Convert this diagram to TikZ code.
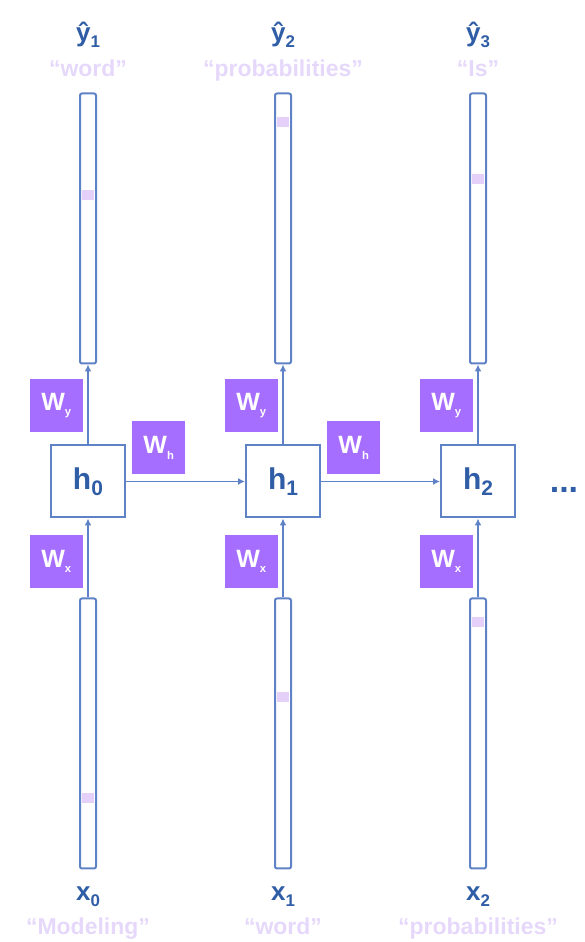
\documentclass[tikz,border=0pt]{standalone}
\usepackage{fontspec}
\setmainfont{Liberation Sans}
\usepackage{xcolor}
\usetikzlibrary{positioning,arrows.meta}
\definecolor{VecBlue}{HTML}{5F82C6}
\definecolor{LabelBlue}{HTML}{2F5DA6}
\definecolor{WordLilac}{HTML}{E6D8FB}
\definecolor{WeightPurple}{HTML}{A66EFF}
\definecolor{HotLilac}{HTML}{E4D0F8}
\newcommand{\lowix}[2][0.7]{\raisebox{-0.4ex}{\scalebox{#1}{#2}}}

\tikzset{
  vecbox/.style={draw=VecBlue, line width=2pt, rounded corners=2pt,
    minimum width=16pt, minimum height=270pt, inner sep=0pt},
  cellbox/.style={draw=VecBlue, line width=2pt, fill=white,
    minimum width=74pt, minimum height=72pt, inner sep=0pt,
    text=LabelBlue, font=\bfseries\fontsize{30}{30}\selectfont},
  weightbox/.style={fill=WeightPurple, minimum size=53pt, inner sep=0pt,
    text=white, font=\bfseries\fontsize{25}{25}\selectfont},
  symlabel/.style={text=LabelBlue, font=\bfseries\fontsize{26}{26}\selectfont,
    inner sep=0pt, anchor=base},
  wordlabel/.style={text=WordLilac, font=\bfseries\fontsize{23}{23}\selectfont,
    inner sep=0pt, anchor=base},
  link/.style={draw=VecBlue, line width=1.6pt, -{Latex[length=7pt,width=7pt]}},
}

\begin{document}
\begin{tikzpicture}[x=1pt,y=1pt]
  \useasboundingbox (0,0) rectangle (585,942);

  % one column per time step
  \foreach \i/\cx/\up/\dn/\yw/\xw in {0/88/747/144/word/Modeling,
      1/283/820/245/probabilities/word, 2/478/763/320/Is/probabilities}{
    \pgfmathtruncatemacro{\j}{\i+1}
    \node[cellbox] (h\i) at (\cx,460.5) {h\lowix{\i}};
    \node[vecbox, above=80pt of h\i] (yvec\i) {};
    \node[vecbox, below=79pt of h\i] (xvec\i) {};
    % one-hot entries
    \fill[HotLilac] (\cx-6,\up-5) rectangle (\cx+6,\up+5);
    \fill[HotLilac] (\cx-6,\dn-5) rectangle (\cx+6,\dn+5);
    \node[weightbox, above left=12pt and 5pt of h\i.north] (wy\i) {W\lowix[0.45]{y}};
    \node[weightbox, below left=16pt and 5pt of h\i.south] (wx\i) {W\lowix[0.45]{x}};
    \ifnum\i<2
      \node[weightbox, above right=7pt and 6pt of h\i.east] (wh\i) {W\lowix[0.45]{h}};
    \fi
    \draw[link] (h\i.north) -- (yvec\i.south);
    \draw[link] (xvec\i.north) -- (h\i.south);
    % labels
    \node[symlabel] (yhat\i) at (\cx,900) {ŷ\lowix[0.65]{\j}};
    \node[wordlabel] (yword\i) at (\cx,865) {“\yw”};
    \node[symlabel] (xin\i) at (\cx,41) {x\lowix[0.65]{\i}};
    \node[wordlabel] (xword\i) at (\cx,8) {“\xw”};
  }

  \draw[link] (h0.east) -- (h1.west);
  \draw[link] (h1.east) -- (h2.west);
  \node[text=LabelBlue, font=\bfseries\fontsize{34}{34}\selectfont] (more) at (564,452) {...};
\end{tikzpicture}
\end{document}
